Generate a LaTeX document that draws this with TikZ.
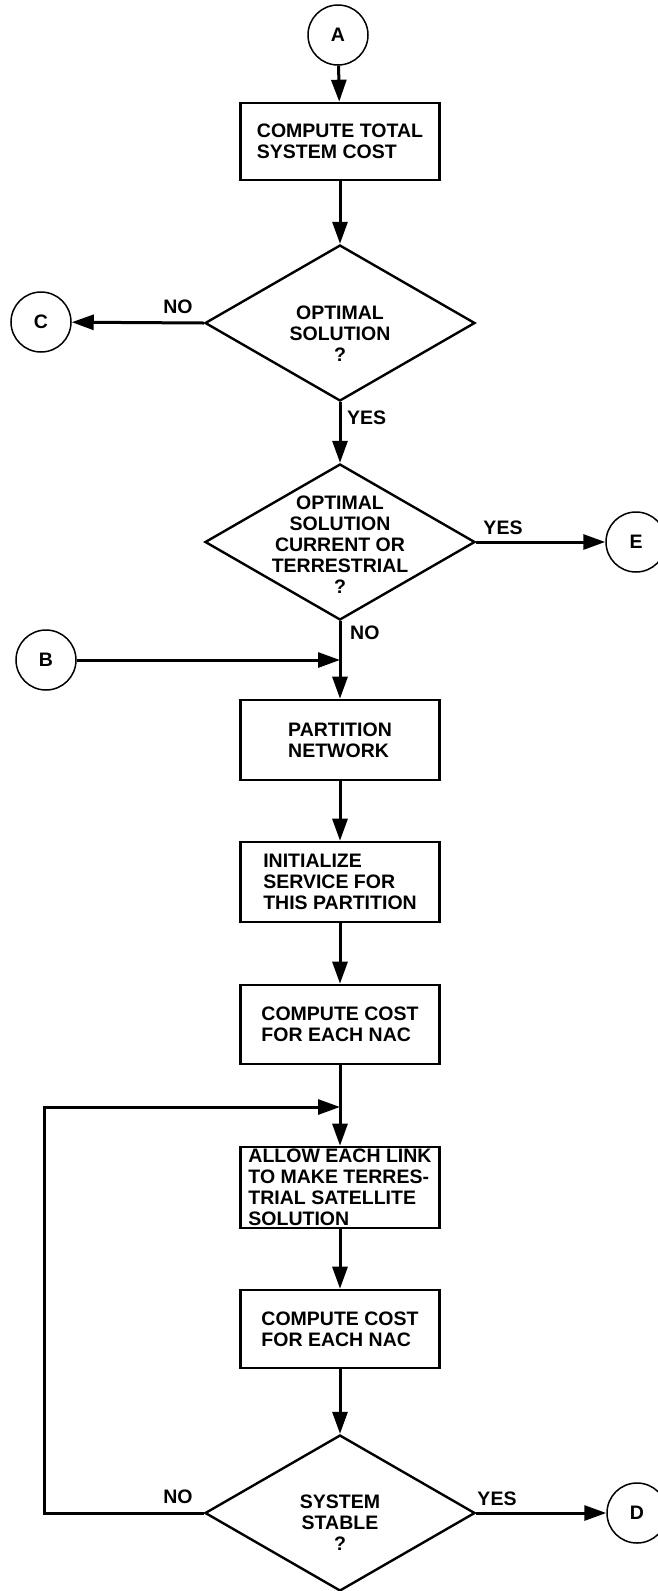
\documentclass[tikz,border=0pt]{standalone}
\usepackage{fontspec}
\setmainfont{Liberation Sans}
\usetikzlibrary{shapes.geometric,arrows.meta}

\begin{document}
\begin{tikzpicture}[x=1pt,y=-1pt,
  txt/.style={font=\bfseries\fontsize{19.5}{21}\selectfont},
  stepbox/.style={txt, draw, line width=2.6pt, minimum width=199pt, inner sep=0pt, align=left},
  decision/.style={diamond, draw, line width=2.4pt, minimum width=270pt, minimum height=156pt, inner sep=0pt},
  dtext/.style={txt, align=center, inner sep=0pt},
  connector/.style={txt, circle, draw, line width=1.5pt, minimum size=60pt, inner sep=0pt},
  lbl/.style={txt, inner sep=0pt},
  flow/.style={line width=3pt, -{Triangle[length=22pt,width=15pt]}},
  wire/.style={line width=3pt}
]
\useasboundingbox (0,0) rectangle (657,1591);

% connectors (off-page references)
\node[connector] (A) at (338,35) {A};
\node[connector] (C) at (41,322) {C};
\node[connector] (E) at (636,542) {E};
\node[connector] (B) at (46,660) {B};
\node[connector] (D) at (637,1513) {D};

% process boxes
\node[stepbox, minimum height=77pt] (total) at (340,141.5) {COMPUTE TOTAL\\SYSTEM COST};
\node[stepbox, minimum height=80pt] (partition) at (340,740) {PARTITION\\NETWORK};
\node[stepbox, minimum height=80pt] (init) at (340,882) {INITIALIZE\\SERVICE FOR\\THIS PARTITION};
\node[stepbox, minimum height=79pt] (cost1) at (340,1024.5) {COMPUTE COST\\FOR EACH NAC};
\node[stepbox, minimum height=81pt] (allow) at (340,1187.5) {ALLOW EACH LINK\\TO MAKE TERRES-\\TRIAL SATELLITE\\SOLUTION};
\node[stepbox, minimum height=78pt] (cost2) at (340,1329) {COMPUTE COST\\FOR EACH NAC};

% decisions
\node[decision] (opt) at (340,323) {};
\node[dtext] (opttxt) at (340,334) {OPTIMAL\\SOLUTION\\?};
\node[decision] (cur) at (340,542) {};
\node[dtext] (curtxt) at (340,545) {OPTIMAL\\SOLUTION\\CURRENT OR\\TERRESTRIAL\\?};
\node[decision] (stable) at (340,1513) {};
\node[dtext] (stabletxt) at (340,1523) {SYSTEM\\STABLE\\?};

% junction points
\coordinate (jb) at (340,660);
\coordinate (jl) at (340,1107);
\coordinate (lb) at (44,1513);
\coordinate (lt) at (44,1107);

% flow lines
\draw[flow] (A) -- (total);
\draw[flow] (total) -- (opt.north);
\draw[flow] (opt.west) -- (C);
\draw[flow] (opt.south) -- (cur.north);
\draw[flow] (cur.east) -- (E);
\draw[flow] (cur.south) -- (partition.north);
\draw[flow] (B) -- (jb);
\draw[flow] (partition) -- (init);
\draw[flow] (init) -- (cost1);
\draw[flow] (cost1) -- (allow);
\draw[flow] (allow) -- (cost2);
\draw[flow] (cost2) -- (stable.north);
\draw[flow] (stable.east) -- (D);
\draw[flow] (stable.west) -- (lb) -- (lt) -- (jl);

% branch labels
\node[lbl] (no1) at (178,307) {NO};
\node[lbl, anchor=west] (yes1) at (347,418) {YES};
\node[lbl] (yes2) at (503,528) {YES};
\node[lbl, anchor=west] (no2) at (350,633) {NO};
\node[lbl] (no3) at (178,1497) {NO};
\node[lbl] (yes3) at (497,1499) {YES};
\end{tikzpicture}
\end{document}
